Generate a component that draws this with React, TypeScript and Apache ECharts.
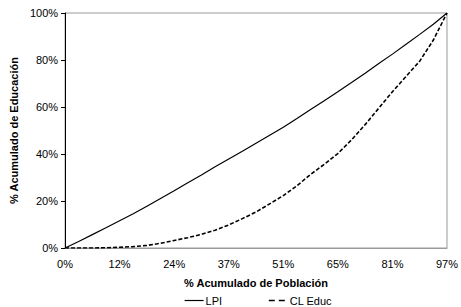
import React, { useEffect, useRef } from "react";
import * as echarts from "echarts";

const categories = [
  "0%", "3%", "6%", "9%", "12%", "15%", "18%", "21%", "24%", "27%", "30%", "34%",
  "37%", "40%", "44%", "48%", "51%", "55%", "58%", "62%", "65%", "69%", "73%", "77%",
  "81%", "85%", "89%", "93%", "97%",
];

const lpi = [
  0, 2.8, 5.7, 8.6, 11.6, 14.6, 17.8, 21.1, 24.4, 27.8, 31.1, 34.6, 37.9, 41.2, 44.6,
  48.0, 51.4, 55.1, 58.9, 62.7, 66.5, 70.4, 74.4, 78.5, 82.5, 86.7, 90.9, 95.2, 100,
];

const clEduc = [
  0, 0, 0, 0.1, 0.3, 0.6, 1.1, 2.0, 3.2, 4.4, 5.8, 7.6, 9.8, 12.5, 15.3, 18.8, 22.3,
  26.5, 31.3, 35.6, 40.2, 46.0, 52.5, 59.5, 66.5, 73.0, 79.5, 88.5, 100,
];

const yTicks = { min: 0, max: 100, interval: 20 };

const FONT = "'Liberation Sans', Arial, sans-serif";

export default function App() {
  const ref = useRef<HTMLDivElement>(null);
  useEffect(() => {
    if (!ref.current) return;
    const chart = echarts.init(ref.current, undefined, { renderer: "svg" });
    chart.setOption({
      animation: false,
      textStyle: { fontFamily: FONT },
      grid: {
        left: 61,
        right: 2,
        top: 13,
        bottom: 59,
        show: true,
        borderColor: "#999",
        borderWidth: 1,
        backgroundColor: "#fff",
      },
      legend: {
        left: 184,
        top: 295,
        itemWidth: 19,
        itemHeight: 8,
        itemGap: 46,
        padding: 0,
        itemStyle: { opacity: 0 },
        textStyle: { fontFamily: FONT, fontSize: 11, color: "#000", padding: [0, 0, 0, -3] },
        data: [
          { name: "LPI", lineStyle: { type: "solid", width: 1.2 } },
          { name: "CL Educ", lineStyle: { type: [6, 4], width: 1.4 } },
        ],
      },
      xAxis: {
        type: "category",
        data: categories,
        boundaryGap: false,
        name: "% Acumulado de Población",
        nameLocation: "middle",
        nameGap: 29,
        nameTextStyle: { fontFamily: FONT, fontSize: 11, fontWeight: "bold", color: "#000" },
        axisLine: { lineStyle: { color: "#999", width: 1 } },
        axisTick: { show: false },
        axisLabel: { interval: 3, fontSize: 11, color: "#000", margin: 10, fontFamily: FONT },
        splitLine: { show: false },
      },
      yAxis: {
        type: "value",
        min: yTicks.min,
        max: yTicks.max,
        interval: yTicks.interval,
        name: "% Acumulado de Educación",
        nameLocation: "middle",
        nameGap: 41,
        nameTextStyle: { fontFamily: FONT, fontSize: 11, fontWeight: "bold", color: "#000" },
        axisLine: { show: true, lineStyle: { color: "#000", width: 1 } },
        axisTick: { show: true, length: 4, lineStyle: { color: "#000" } },
        axisLabel: { formatter: "{value}%", fontSize: 11, color: "#000", margin: 7, fontFamily: FONT },
        splitLine: { show: false },
      },
      series: [
        {
          name: "LPI",
          type: "line",
          data: lpi,
          symbol: "none",
          lineStyle: { color: "#000", width: 1.2, type: "solid" },
          itemStyle: { color: "#000" },
        },
        {
          name: "CL Educ",
          type: "line",
          data: clEduc,
          symbol: "none",
          lineStyle: { color: "#000", width: 1.6, type: [4, 2] },
          itemStyle: { color: "#000" },
        },
      ],
    });
    return () => chart.dispose();
  }, []);
  return (
    <div
      ref={ref}
      style={{ position: "absolute", left: 0, top: 0, width: 461, height: 307 }}
    />
  );
}
